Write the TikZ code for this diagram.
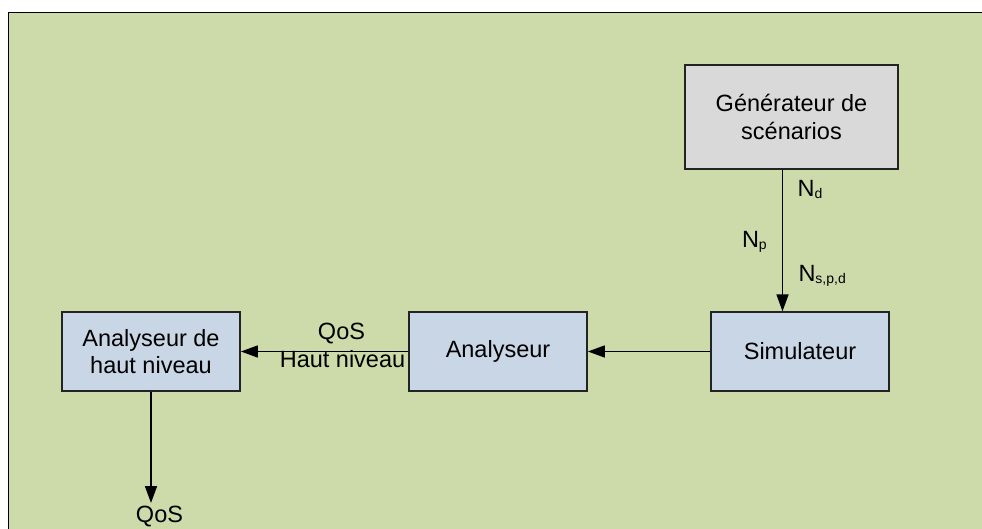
\documentclass[tikz,border=0pt]{standalone}
\usepackage{fontspec}
\setmainfont{Liberation Sans}
\usetikzlibrary{arrows.meta}
\definecolor{bggreen}{RGB}{204,219,169}
\definecolor{boxblue}{RGB}{201,214,230}
\definecolor{boxgray}{RGB}{217,217,217}
\definecolor{edge}{RGB}{35,35,35}
\newcommand{\Nsb}[1]{N\raisebox{-2pt}{\fontsize{14}{14}\selectfont #1}}
\tikzset{
  block/.style={draw=edge, line width=1.8pt, rectangle, minimum width=178pt, minimum height=78.5pt, align=center, inner sep=0pt, fill=boxblue, font=\fontsize{23.5}{27.5}\selectfont},
  conn/.style={line width=1.7pt, -{Triangle[length=17pt,width=12pt]}},
  lbl/.style={inner sep=0pt, font=\fontsize{23.5}{27.5}\selectfont},
}
\begin{document}
\begin{tikzpicture}[x=1pt,y=-1pt]
\useasboundingbox (0,0) rectangle (982,529);
\fill[white] (0,0) rectangle (982,529);
\fill[bggreen] (8,12) rectangle (982,529);
\draw[line width=1.8pt] (8.5,529) -- (8.5,12.5) -- (982,12.5);

\node[block, fill=boxgray, minimum width=213pt, minimum height=103.5pt] (gen) at (791.5,117) {Générateur de\\scénarios};
\node[block] (sim) at (800,351.5) {Simulateur};
\node[block] (ana) at (498,351.5) {Analyseur};
\node[block] (ahn) at (151,351.5) {Analyseur de\\haut niveau};

\coordinate (ax) at (782.5,0);
\draw[conn] (gen.south -| ax) -- (sim.north -| ax);
\draw[conn] (sim.west) -- (ana.east);
\draw[conn] (ana.west) -- (ahn.east);

\node[lbl, anchor=base] (qos) at (159.5,522) {QoS};
\coordinate (qtip) at (151,503);
\draw[conn] (ahn.south) -- (qtip);

\node[lbl, anchor=base] (lq) at (341.5,339) {QoS};
\node[lbl, anchor=base] (lh) at (342.5,367.5) {Haut niveau};

\node[lbl, anchor=base west] (nd) at (797.5,196.5) {\Nsb{d}};
\node[lbl, anchor=base west] (np) at (741.8,247.7) {\Nsb{p}};
\node[lbl, anchor=base west] (nspd) at (798.3,281.7) {\Nsb{s,p,d}};
\end{tikzpicture}
\end{document}
